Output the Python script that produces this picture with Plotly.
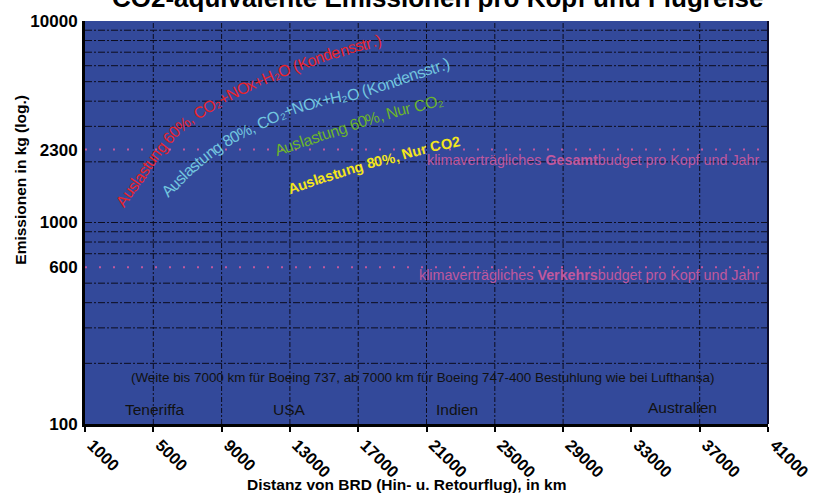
import math
import plotly.graph_objects as go

# ---------------- data ----------------
distance_ticks = [1000, 5000, 9000, 13000, 17000, 21000, 25000, 29000, 33000, 37000, 41000]
distance_grid = [5000, 9000, 13000, 17000, 21000, 25000, 29000, 37000]
emission_ticks = [100, 600, 1000, 2300, 10000]
emission_tick_labels = ["100", "600", "1000", "2300", "10000"]
emission_grid = [200, 300, 400, 500, 700, 800, 900, 1000,
                 2000, 3000, 4000, 5000, 6000, 7000, 8000, 9000]

budget_values = [2300, 600]
budget_labels = ["klimaverträgliches <b>Gesamt</b>budget pro Kopf und Jahr",
                 "klimaverträgliches <b>Verkehrs</b>budget pro Kopf und Jahr"]

destinations = ["Teneriffa", "USA", "Indien", "Australien"]
destination_distances = [5100, 13000, 22800, 36000]
destination_emissions = [118, 118, 118, 121]

note_text = "(Weite bis 7000 km für Boeing 737, ab 7000 km für Boeing 747-400 Bestuhlung wie bei Lufthansa)"

series_labels = ["Auslastung 60%, CO₂+NOx+H₂O (Kondensstr.)",
                 "Auslastung 80%, CO₂+NOx+H₂O (Kondensstr.)",
                 "Auslastung 60%, Nur CO₂",
                 "Auslastung 80%, Nur CO2"]
series_colors = ["#e8232b", "#72c5df", "#6cb52c", "#f4e61c"]

# label paths (distance km, emission kg) along which each series label runs
red_path_distance = [3040, 4210, 5260, 6250, 7710, 10040, 12370, 15290, 18380]
red_path_emission = [1230, 1690, 2250, 2820, 3530, 4530, 5550, 6810, 8070]
cyan_path_distance = [5665, 7120, 8755, 10040, 11320, 13360, 15290, 17330, 19950, 22690]
cyan_path_emission = [1380, 1830, 2376, 2753, 3118, 3694, 4090, 4478, 5306, 6361]
green_path_distance = [12140, 16160, 18200, 19950, 22110]
green_path_emission = [2272, 2946, 3375, 3694, 4090]
yellow_path_distance = [12895, 16860, 19076, 20242, 21700, 22866]
yellow_path_emission = [1461, 1874, 2099, 2246, 2404, 2515]

# ---------------- geometry ----------------
W, H = 824, 493
ML, MR, MT, MB = 85, 53, 18, 68
PL, PR, PT, PB = ML, W - MR, MT, H - MB
X0, X1 = distance_ticks[0], distance_ticks[-1]
LY0, LY1 = 2.0, 4.0

FONT = "Liberation Sans, Arial, Helvetica, sans-serif"
BG = "#33499a"
GRID = "#0d0d1e"
PINK = "#c0589e"


def to_px(x, y):
    px = PL + (x - X0) / (X1 - X0) * (PR - PL)
    py = PB - (math.log10(y) - LY0) / (LY1 - LY0) * (PB - PT)
    return px, py


def from_px(px, py):
    x = X0 + (px - PL) / (PR - PL) * (X1 - X0)
    ly = LY0 + (PB - py) / (PB - PT) * (LY1 - LY0)
    return x, ly


REG = {'A': 667, 'u': 556, 's': 500, 'l': 222, 'a': 556, 't': 278, 'n': 556, 'g': 556,
       ' ': 278, '6': 556, '0': 556, '8': 556, '%': 889, ',': 278, 'C': 722, 'O': 778,
       '+': 584, 'N': 722, 'x': 500, 'H': 722, '(': 333, 'K': 667, 'o': 556, 'd': 556,
       'e': 556, 'r': 333, '.': 278, ')': 333, '2': 556, '₂': 420}
BOLD = {'A': 722, 'u': 611, 's': 556, 'l': 278, 'a': 556, 't': 333, 'n': 611, 'g': 611,
        ' ': 278, '8': 556, '6': 556, '0': 556, '%': 889, ',': 278, 'N': 722, 'r': 389,
        'C': 722, 'O': 778, '2': 556, '₂': 440}


def catmull(pts, n=16):
    out = []
    P = [pts[0]] + pts + [pts[-1]]
    for i in range(1, len(P) - 2):
        p0, p1, p2, p3 = P[i - 1], P[i], P[i + 1], P[i + 2]
        for k in range(n):
            t = k / n
            t2, t3 = t * t, t * t * t
            x = 0.5 * ((2 * p1[0]) + (-p0[0] + p2[0]) * t + (2 * p0[0] - 5 * p1[0] + 4 * p2[0] - p3[0]) * t2 + (-p0[0] + 3 * p1[0] - 3 * p2[0] + p3[0]) * t3)
            y = 0.5 * ((2 * p1[1]) + (-p0[1] + p2[1]) * t + (2 * p0[1] - 5 * p1[1] + 4 * p2[1] - p3[1]) * t2 + (-p0[1] + 3 * p1[1] - 3 * p2[1] + p3[1]) * t3)
            out.append((x, y))
    out.append(pts[-1])
    return out


def curved_label(text, dist, emis, color, size, bold, spacing=1.0):
    pts = catmull([to_px(x, y) for x, y in zip(dist, emis)])
    cum = [0.0]
    for a, b in zip(pts[:-1], pts[1:]):
        cum.append(cum[-1] + math.hypot(b[0] - a[0], b[1] - a[1]))
    table = BOLD if bold else REG
    anns = []
    s = 0.0
    for ch in text:
        w = table.get(ch, 556) / 1000.0 * size * spacing
        c = s + w / 2
        s += w
        if ch == ' ':
            continue
        j = 0
        while j < len(cum) - 2 and cum[j + 1] < c:
            j += 1
        a, b = pts[j], pts[j + 1]
        seg = max(cum[j + 1] - cum[j], 1e-9)
        t = (c - cum[j]) / seg
        px = a[0] + (b[0] - a[0]) * t
        py = a[1] + (b[1] - a[1]) * t
        ang = math.degrees(math.atan2(b[1] - a[1], b[0] - a[0]))
        x, ly = from_px(px, py)
        anns.append(dict(x=x, y=ly, xref="x", yref="y", text=ch, showarrow=False,
                         textangle=ang, xanchor="center", yanchor="middle",
                         font=dict(family=FONT, size=size, color=color,
                                   weight="bold" if bold else "normal")))
    return anns


fig = go.Figure()

# grid lines
gx, gy = [], []
for v in emission_grid:
    gx += [X0, X1, None]
    gy += [v, v, None]
fig.add_trace(go.Scatter(x=gx, y=gy, mode="lines", hoverinfo="skip", showlegend=False,
                         line=dict(color=GRID, width=1, dash="7px,2px,2px,2px")))
vx, vy = [], []
for d in distance_grid:
    vx += [d, d, None]
    vy += [10 ** LY0, 10 ** LY1, None]
fig.add_trace(go.Scatter(x=vx, y=vy, mode="lines", hoverinfo="skip", showlegend=False,
                         line=dict(color=GRID, width=1, dash="5px,2px,2px,2px")))

# budget lines
for v in budget_values:
    fig.add_trace(go.Scatter(x=[X0, X1], y=[v, v], mode="lines", hoverinfo="skip",
                             showlegend=False,
                             line=dict(color=PINK, width=2, dash="2px,12px")))

annotations = []
for v, lab, ysh in zip(budget_values, budget_labels, [-10, -8]):
    annotations.append(dict(x=40600, y=math.log10(v), xref="x", yref="y", text=lab,
                            showarrow=False, xanchor="right", yanchor="middle", yshift=ysh,
                            font=dict(family=FONT, size=14.3, color=PINK)))

annotations.append(dict(x=20767, y=math.log10(171), xref="x", yref="y", text=note_text,
                        showarrow=False, xanchor="center", yanchor="middle",
                        font=dict(family=FONT, size=13.4, color="#111111")))

for name, d, e in zip(destinations, destination_distances, destination_emissions):
    annotations.append(dict(x=d, y=math.log10(e), xref="x", yref="y", text=name,
                            showarrow=False, xanchor="center", yanchor="middle",
                            font=dict(family=FONT, size=15.5, color="#111111")))

paths = [(red_path_distance, red_path_emission),
         (cyan_path_distance, cyan_path_emission),
         (green_path_distance, green_path_emission),
         (yellow_path_distance, yellow_path_emission)]
sizes = [16, 16, 16, 14.5]
bolds = [False, False, False, True]
for lab, (pd_, pe_), col, sz, bd in zip(series_labels, paths, series_colors, sizes, bolds):
    annotations += curved_label(lab, pd_, pe_, col, sz, bd, spacing=0.95 if not bd else 1.0)

# titles
annotations.append(dict(x=(440 - PL) / (PR - PL), y=(PB + 5) / (PB - PT), xref="paper", yref="paper",
                        text="CO2-äquivalente Emissionen pro Kopf und Flugreise", showarrow=False,
                        xanchor="center", yanchor="middle",
                        font=dict(family=FONT, size=26, color="#000000", weight="bold")))
annotations.append(dict(x=(408 - PL) / (PR - PL), y=(PB - 486) / (PB - PT), xref="paper", yref="paper",
                        text="Distanz von BRD (Hin- u. Retourflug), in km", showarrow=False,
                        xanchor="center", yanchor="middle",
                        font=dict(family=FONT, size=15.5, color="#000000", weight="bold")))
annotations.append(dict(x=(20 - PL) / (PR - PL), y=(PB - 178) / (PB - PT), xref="paper", yref="paper",
                        text="Emissionen in kg (log.)", showarrow=False, textangle=-90,
                        xanchor="center", yanchor="middle",
                        font=dict(family=FONT, size=15.5, color="#000000", weight="bold")))

fig.update_layout(
    width=W, height=H,
    margin=dict(l=ML, r=MR, t=MT, b=MB, pad=0),
    paper_bgcolor="white", plot_bgcolor=BG,
    showlegend=False,
    annotations=annotations,
    shapes=[dict(type="line", xref="paper", yref="paper", x0=1, x1=1, y0=0, y1=1,
                 line=dict(color="#0b0b2a", width=2))],
    xaxis=dict(range=[X0, X1], tickmode="array", tickvals=distance_ticks,
               ticktext=[str(v) for v in distance_ticks], tickangle=45,
               ticks="outside", ticklen=5, tickwidth=2, tickcolor="#000",
               ticklabelshift=7, ticklabelstandoff=-3,
               showline=True, linewidth=3, linecolor="#000", showgrid=False, zeroline=False,
               tickfont=dict(family=FONT, size=16.5, color="#000", weight="bold")),
    yaxis=dict(type="log", range=[LY0, LY1], tickmode="array", tickvals=emission_ticks,
               ticktext=emission_tick_labels, ticks="", showgrid=False, zeroline=False,
               showline=True, linewidth=3, linecolor="#000", ticklabelstandoff=1,
               tickfont=dict(family=FONT, size=17, color="#000", weight="bold")),
)

fig.write_html("out.html", config={"displayModeBar": False},
               post_script="document.body.style.margin='0';document.body.style.padding='0';"
                           "document.documentElement.style.margin='0';")
